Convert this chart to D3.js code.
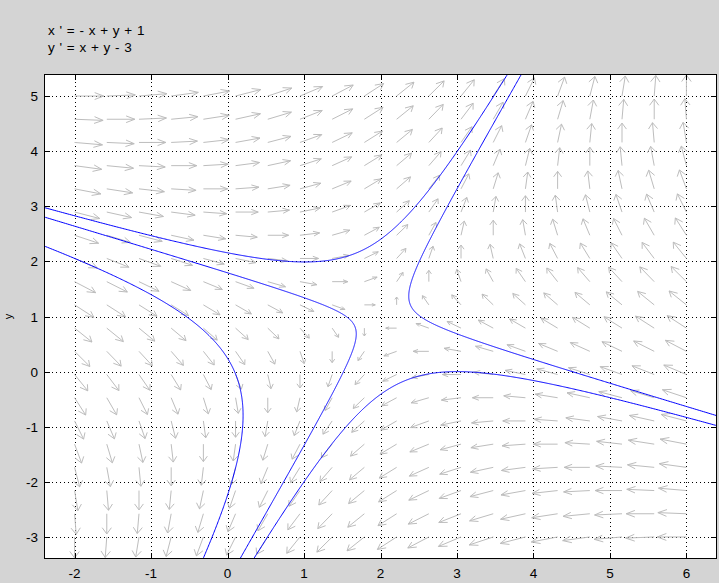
<!DOCTYPE html>
<html>
<head>
<meta charset="utf-8">
<script src="https://cdn.jsdelivr.net/npm/d3@7"></script>
<style>
  html, body { margin: 0; padding: 0; background: #d4d4d4; }
  svg { display: block; }
  text { font-family: "Liberation Sans", Arial, sans-serif; fill: #000; }
</style>
</head>
<body>
<svg id="chart" width="719" height="583"></svg>
<script>
// System: x' = a*x + b*y + c, y' = d*x + e*y + f
const titleLines = ["x ' = - x + y + 1", "y ' = x + y - 3"];
const xPrimeCoef = [-1, 1, 1];
const yPrimeCoef = [1, 1, -3];

// Display window and ticks
const xDomain = [-2.4, 6.4];
const yDomain = [-3.4, 5.4];
const xTicks = [-2, -1, 0, 1, 2, 3, 4, 5, 6];
const yTicks = [-3, -2, -1, 0, 1, 2, 3, 4, 5];

// Sample points of the vector field (20 x 20)
const fieldXs = [-2, -1.579, -1.158, -0.737, -0.316, 0.105, 0.526, 0.947, 1.368, 1.789,
                 2.211, 2.632, 3.053, 3.474, 3.895, 4.316, 4.737, 5.158, 5.579, 6];
const fieldYs = [-3, -2.579, -2.158, -1.737, -1.316, -0.895, -0.474, -0.053, 0.368, 0.789,
                 1.211, 1.632, 2.053, 2.474, 2.895, 3.316, 3.737, 4.158, 4.579, 5];

// Initial points of the plotted solution curves
const orbitStartX = [0.97, 1.67, -2.4, 2.97, 2.37];
const orbitStartY = [1.99, 0.80, 2.28, 0.00, 1.40];

const svg = d3.select("#chart");
const plot = { left: 44, top: 74, right: 717, bottom: 559 };

const x = d3.scaleLinear().domain(xDomain).range([plot.left, plot.right]);
const y = d3.scaleLinear().domain(yDomain).range([plot.bottom, plot.top]);

function field(px, py) {
  return [
    xPrimeCoef[0] * px + xPrimeCoef[1] * py + xPrimeCoef[2],
    yPrimeCoef[0] * px + yPrimeCoef[1] * py + yPrimeCoef[2]
  ];
}

// Plot background
svg.append("rect")
  .attr("x", plot.left).attr("y", plot.top)
  .attr("width", plot.right - plot.left).attr("height", plot.bottom - plot.top)
  .attr("fill", "#fff");

svg.append("clipPath").attr("id", "plotClip")
  .append("rect")
  .attr("x", plot.left).attr("y", plot.top)
  .attr("width", plot.right - plot.left).attr("height", plot.bottom - plot.top);

// Dotted grid
const grid = svg.append("g").attr("stroke", "#000").attr("stroke-width", 1)
  .attr("stroke-dasharray", "1,3").attr("shape-rendering", "crispEdges");
grid.selectAll("line.gx").data(xTicks).join("line")
  .attr("x1", d => Math.round(x(d)) + 0.5).attr("x2", d => Math.round(x(d)) + 0.5)
  .attr("y1", plot.top).attr("y2", plot.bottom);
grid.selectAll("line.gy").data(yTicks).join("line")
  .attr("y1", d => Math.round(y(d)) + 0.5).attr("y2", d => Math.round(y(d)) + 0.5)
  .attr("x1", plot.left).attr("x2", plot.right);

// Vector field arrows: length grows with the cube root of the speed
const arrows = [];
fieldXs.forEach(fx => fieldYs.forEach(fy => arrows.push([fx, fy])));

function arrowPath([px, py]) {
  const [vx, vy] = field(px, py);
  const m = Math.hypot(vx, vy);
  if (m === 0) return "";
  const L = 0.19 * Math.cbrt(m);
  const ux = vx / m, uy = vy / m;
  const tx = px + ux * L, ty = py + uy * L;
  const h = 0.35 * L, ang = 28 * Math.PI / 180;
  const bx = -ux, by = -uy;
  const w1x = tx + h * (bx * Math.cos(ang) - by * Math.sin(ang));
  const w1y = ty + h * (bx * Math.sin(ang) + by * Math.cos(ang));
  const w2x = tx + h * (bx * Math.cos(-ang) - by * Math.sin(-ang));
  const w2y = ty + h * (bx * Math.sin(-ang) + by * Math.cos(-ang));
  return `M${x(px)},${y(py)}L${x(tx)},${y(ty)}M${x(w1x)},${y(w1y)}L${x(tx)},${y(ty)}L${x(w2x)},${y(w2y)}`;
}

svg.append("g").attr("clip-path", "url(#plotClip)")
  .selectAll("path").data(arrows).join("path")
  .attr("d", arrowPath)
  .attr("fill", "none")
  .attr("stroke", "#bdbdbd")
  .attr("stroke-width", 1);

// Solution curves by RK4, forward and backward from each start point
function integrate(p0, dir) {
  const pts = [p0];
  let [cx, cy] = p0;
  const h = 0.004 * dir;
  for (let i = 0; i < 6000; i++) {
    const k1 = field(cx, cy);
    const k2 = field(cx + h / 2 * k1[0], cy + h / 2 * k1[1]);
    const k3 = field(cx + h / 2 * k2[0], cy + h / 2 * k2[1]);
    const k4 = field(cx + h * k3[0], cy + h * k3[1]);
    cx += h / 6 * (k1[0] + 2 * k2[0] + 2 * k3[0] + k4[0]);
    cy += h / 6 * (k1[1] + 2 * k2[1] + 2 * k3[1] + k4[1]);
    pts.push([cx, cy]);
    if (cx < xDomain[0] - 0.3 || cx > xDomain[1] + 0.3 ||
        cy < yDomain[0] - 0.3 || cy > yDomain[1] + 0.3) break;
  }
  return pts;
}

const orbits = orbitStartX.map((sx, i) => {
  const p0 = [sx, orbitStartY[i]];
  const back = integrate(p0, -1).reverse();
  const fwd = integrate(p0, 1).slice(1);
  return back.concat(fwd);
});

const line = d3.line().x(d => x(d[0])).y(d => y(d[1]));
svg.append("g").attr("clip-path", "url(#plotClip)")
  .selectAll("path").data(orbits).join("path")
  .attr("d", line)
  .attr("fill", "none")
  .attr("stroke", "#0000ff")
  .attr("stroke-width", 1);

// Axes box with inward ticks on all sides
const axisG = svg.append("g").attr("shape-rendering", "crispEdges");
axisG.append("rect")
  .attr("x", plot.left + 0.5).attr("y", plot.top + 0.5)
  .attr("width", plot.right - plot.left - 1).attr("height", plot.bottom - plot.top - 1)
  .attr("fill", "none").attr("stroke", "#000").attr("stroke-width", 1);

const tickLen = 6;
xTicks.forEach(t => {
  const px = Math.round(x(t)) + 0.5;
  axisG.append("line").attr("x1", px).attr("x2", px)
    .attr("y1", plot.bottom).attr("y2", plot.bottom - tickLen).attr("stroke", "#000");
  axisG.append("line").attr("x1", px).attr("x2", px)
    .attr("y1", plot.top).attr("y2", plot.top + tickLen).attr("stroke", "#000");
});
yTicks.forEach(t => {
  const py = Math.round(y(t)) + 0.5;
  axisG.append("line").attr("y1", py).attr("y2", py)
    .attr("x1", plot.left).attr("x2", plot.left + tickLen).attr("stroke", "#000");
  axisG.append("line").attr("y1", py).attr("y2", py)
    .attr("x1", plot.right).attr("x2", plot.right - tickLen).attr("stroke", "#000");
});

// Tick labels
svg.append("g").selectAll("text").data(xTicks).join("text")
  .attr("x", d => x(d)).attr("y", plot.bottom + 19)
  .attr("text-anchor", "middle").attr("font-size", 13.5)
  .text(d => d);
svg.append("g").selectAll("text").data(yTicks).join("text")
  .attr("x", plot.left - 6).attr("y", d => y(d) + 5)
  .attr("text-anchor", "end").attr("font-size", 13.5)
  .text(d => d);

// Axis label
svg.append("text")
  .attr("transform", `translate(12,${(plot.top + plot.bottom) / 2}) rotate(-90)`)
  .attr("text-anchor", "middle").attr("font-size", 11)
  .text("y");

// Equations
svg.append("g").selectAll("text").data(titleLines).join("text")
  .attr("x", 48).attr("y", (d, i) => 35 + i * 17)
  .attr("font-size", 13.5)
  .attr("word-spacing", 1)
  .text(d => d);
</script>
</body>
</html>
